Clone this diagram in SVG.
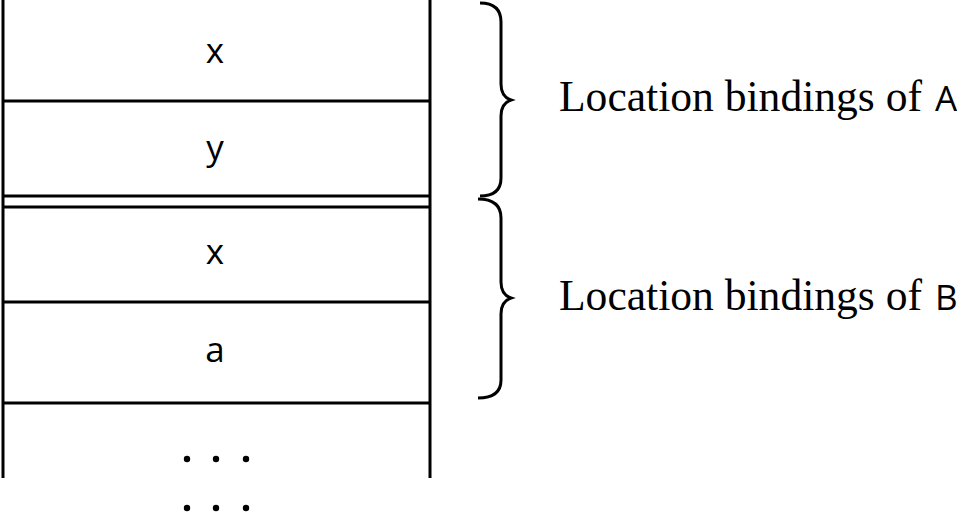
<svg xmlns="http://www.w3.org/2000/svg" width="957" height="512" viewBox="0 0 957 512">
<style>
.ln{stroke:#000;stroke-width:3;fill:none}
.cell{font-family:"Open Sans","DejaVu Sans",sans-serif;font-size:35px;text-anchor:middle;fill:#000}
.lbl{font-family:"Liberation Serif","DejaVu Serif",serif;font-size:44px;fill:#000}
.sf{font-family:"Open Sans","DejaVu Sans",sans-serif;font-size:35px;fill:#000}
.br{stroke:#000;stroke-width:3;fill:none;stroke-linecap:butt}
</style>
<rect width="957" height="512" fill="#fff"/>
<g id="stack">
<line class="ln" x1="3" y1="0" x2="3" y2="478"/>
<line class="ln" x1="430" y1="0" x2="430" y2="478"/>
</g>
<g id="cell-x-A">
<line class="ln" x1="3" y1="101" x2="430" y2="101"/>
<text class="cell" x="215" y="63">x</text>
</g>
<g id="cell-y-A">
<line class="ln" x1="3" y1="196" x2="430" y2="196"/>
<text class="cell" x="215" y="160">y</text>
</g>
<g id="cell-x-B">
<line class="ln" x1="3" y1="207" x2="430" y2="207"/>
<line class="ln" x1="3" y1="302" x2="430" y2="302"/>
<text class="cell" x="215" y="264">x</text>
</g>
<g id="cell-a-B">
<line class="ln" x1="3" y1="403" x2="430" y2="403"/>
<text class="cell" x="215" y="362">a</text>
</g>
<g id="ellipsis">
<circle cx="187" cy="459" r="3.2"/>
<circle cx="216" cy="459" r="3.2"/>
<circle cx="246" cy="459" r="3.2"/>
<circle cx="187" cy="508" r="3.2"/>
<circle cx="216" cy="508" r="3.2"/>
<circle cx="246" cy="508" r="3.2"/>
</g>
<g id="connectors">
<path class="br" d="M480,3 C493,3 501,8 501,22 L501,84 C501,93 505,98 511,100 C505,102 501,107 501,116 L501,178 C501,191 493,196 480,196"/>
<path class="br" d="M478,199 C492,199 501,204 501,218 L501,282 C501,291 505,296 511,298 C505,300 501,305 501,314 L501,380 C501,393 492,398 478,398"/>
</g>
<g id="label-A">
<text class="lbl" x="559" y="111" textLength="363" lengthAdjust="spacingAndGlyphs">Location bindings of</text>
<text class="sf" x="935" y="111">A</text>
</g>
<g id="label-B">
<text class="lbl" x="559" y="310" textLength="363" lengthAdjust="spacingAndGlyphs">Location bindings of</text>
<text class="sf" x="935" y="310">B</text>
</g>
</svg>
